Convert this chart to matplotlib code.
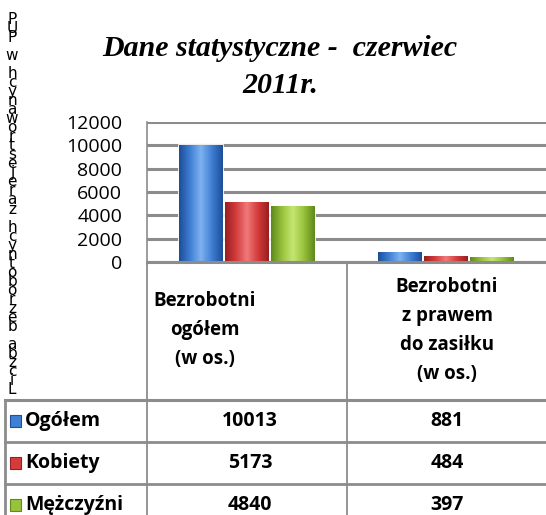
import numpy as np
import matplotlib
matplotlib.use('Agg')
import matplotlib.pyplot as plt
from matplotlib.colors import LinearSegmentedColormap

# dane
kategorie = ['Bezrobotni\nogółem\n(w os.)', 'Bezrobotni\nz prawem\ndo zasiłku\n(w os.)']
serie = ['Ogółem', 'Kobiety', 'Mężczyźni']
ogolem = [10013, 881]
kobiety = [5173, 484]
mezczyzni = [4840, 397]
yticks = [0, 2000, 4000, 6000, 8000, 10000, 12000]
tytul = 'Dane statystyczne -  czerwiec\n2011r.'
opis_osi = 'Liczba bezrobotnych zarejestrowanych w PUP'

kolory = ['#3f7fd4', '#d43c3c', '#98c23c']
ciemne = ['#1d4f9a', '#9a1f1f', '#5f8a1c']
jasne = ['#7fb2f0', '#f07a7a', '#c6e672']
szary = '#8c8c8c'
FONT = 'Open Sans'

W, H = 546, 515
fig = plt.figure(figsize=(W / 100, H / 100), dpi=100)

ax = fig.add_axes([147 / W, 1 - 262 / H, (W - 147) / W, 140 / H])
x = np.arange(len(kategorie))
szer = 0.22
offs = [-0.23, 0.0, 0.23]
for vals, off, c, cd, cl in zip([ogolem, kobiety, mezczyzni], offs, kolory, ciemne, jasne):
    bars = ax.bar(x + off, vals, width=szer, color=c, edgecolor='white', linewidth=1.2, zorder=3)
    cmap = LinearSegmentedColormap.from_list('g', [cd, c, cl, c, cd])
    grad = np.linspace(0, 1, 64).reshape(1, -1)
    for b in bars:
        x0, y0 = b.get_x(), b.get_y()
        im = ax.imshow(grad, extent=[x0, x0 + b.get_width(), y0, y0 + b.get_height()],
                       cmap=cmap, aspect='auto', zorder=3.5)
        im.set_clip_path(b)

ax.set_xlim(-0.5, 1.5)
ax.set_ylim(0, 12000)
ax.set_yticks(yticks)
ax.set_xticks([])
ax.tick_params(axis='y', length=0, pad=18, labelsize=14)
for t in ax.get_yticklabels():
    t.set_fontfamily(FONT)
ax.grid(axis='y', color=szary, linewidth=2.2, zorder=1)
for s in ['top', 'right', 'bottom']:
    ax.spines[s].set_visible(False)
ax.spines['left'].set_color(szary)
ax.spines['left'].set_linewidth(1.2)

# tytul
fig.text(280 / W, 1 - 67 / H, tytul, ha='center', va='center', fontsize=21.5,
         family='Liberation Serif', weight='bold', style='italic', linespacing=1.5)

# opis osi - litery ustawione jedna pod druga (od gory: P U P ...)
znaki = list(opis_osi)[::-1]
y_top, y_bot = 19, 390
krok = (y_bot - y_top) / (len(znaki) - 1)
for i, ch in enumerate(znaki):
    if ch == ' ':
        continue
    fig.text(12 / W, 1 - (y_top + i * krok) / H, ch, ha='center', va='center',
             fontsize=11, family='DejaVu Sans')

# tabela
tab = fig.add_axes([0, 0, 1, 1])
tab.set_xlim(0, W)
tab.set_ylim(H, 0)
tab.axis('off')
lw = 1.3
tab.plot([147, W], [262, 262], color=szary, lw=2.2)
tab.plot([147, 147], [262, H], color=szary, lw=lw)
tab.plot([347, 347], [262, H], color=szary, lw=lw)
tab.plot([5, W], [400, 400], color=szary, lw=2.2)
tab.plot([5, 5], [400, H], color=szary, lw=2)
for yy in [442, 484]:
    tab.plot([5, W], [yy, yy], color=szary, lw=2)

tab.text(205, 330, kategorie[0], ha='center', va='center', fontsize=13.5,
         family=FONT, weight='bold', linespacing=1.6)
tab.text(447, 331, kategorie[1], ha='center', va='center', fontsize=13.5,
         family=FONT, weight='bold', linespacing=1.6)

rows_y = [421, 463, 505]
for nazwa, vals, c, cd, yy in zip(serie, [ogolem, kobiety, mezczyzni], kolory, ciemne, rows_y):
    tab.add_patch(plt.Rectangle((10, yy - 6), 11, 12, facecolor=c, edgecolor=cd, lw=0.8))
    tab.text(25, yy, nazwa, ha='left', va='center', fontsize=14, family=FONT, weight='bold')
    tab.text(250, yy, str(vals[0]), ha='center', va='center', fontsize=14, family=FONT, weight='bold')
    tab.text(447, yy, str(vals[1]), ha='center', va='center', fontsize=14, family=FONT, weight='bold')

fig.savefig('out.png', dpi=100)
